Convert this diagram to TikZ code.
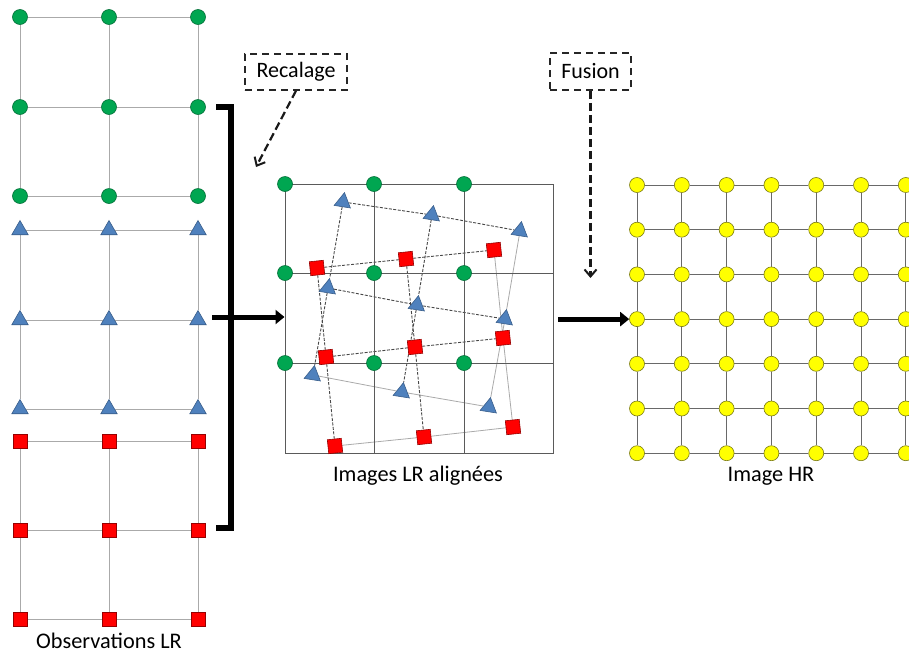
\documentclass[tikz,border=0pt]{standalone}
\usepackage{fontspec}
\setmainfont{Carlito}
\usetikzlibrary{shapes.geometric,arrows.meta,backgrounds}
\definecolor{gfill}{RGB}{0,166,81}
\definecolor{gdraw}{RGB}{0,110,55}
\definecolor{bfill}{RGB}{79,129,189}
\definecolor{bdraw}{RGB}{56,93,138}
\definecolor{rfill}{RGB}{255,0,0}
\definecolor{rdraw}{RGB}{150,0,0}
\definecolor{yfill}{RGB}{255,255,0}
\definecolor{ydraw}{RGB}{120,120,20}
\definecolor{lgrid}{RGB}{170,170,170}
\definecolor{dgrid}{RGB}{105,105,105}
\definecolor{mgrid}{RGB}{90,90,90}
\begin{document}
\begin{tikzpicture}[x=1pt,y=-1pt,
 gdot/.style={circle,fill=gfill,draw=gdraw,line width=0.6pt,minimum size=15pt,inner sep=0pt},
 bdot/.style={regular polygon,regular polygon sides=3,fill=bfill,draw=bdraw,line width=0.6pt,minimum size=19pt,inner sep=0pt},
 rdot/.style={rectangle,fill=rfill,draw=rdraw,line width=0.6pt,minimum size=14pt,inner sep=0pt},
 ydot/.style={circle,fill=yfill,draw=ydraw,line width=0.6pt,minimum size=15pt,inner sep=0pt},
 lline/.style={draw=lgrid,line width=0.9pt},
 yline/.style={draw=dgrid,line width=1pt},
 dline/.style={draw=mgrid!80!black,line width=0.9pt,dash pattern=on 3pt off 1.5pt},
 fline/.style={draw=lgrid,line width=0.8pt},
 lbl/.style={font=\fontsize{22.3}{26}\selectfont,inner sep=0pt},
 tagbox/.style={draw=black!85,line width=1.5pt,dash pattern=on 7pt off 5pt,font=\fontsize{22}{26}\selectfont,inner sep=0pt},
 darrow/.style={draw=black!90,line width=2.2pt,dash pattern=on 8pt off 4pt,-{Straight Barb[length=7pt,width=12pt,line width=2pt]}},
 barrow/.style={draw=black,line width=5pt,-{Triangle[length=9pt,width=14pt]}}]
\useasboundingbox (0,0) rectangle (909,654);

% ---------- left observation grids ----------
\foreach \c/\x in {0/20,1/109,2/198}{
  \foreach \r/\y in {0/17,1/107,2/196}{\node[gdot] (g-\c-\r) at (\x,\y) {};}
  \foreach \r/\y in {0/228,1/318,2/407}{\node[bdot] (b-\c-\r) at (\x,\y+2) {};}
  \foreach \r/\y in {0/441,1/530,2/619}{\node[rdot] (s-\c-\r) at (\x,\y) {};}
}
\begin{scope}[on background layer]
\foreach \p in {g,b,s}{
  \foreach \a/\b in {0/1,1/2}{
    \foreach \k in {0,1,2}{
      \draw[lline] (\p-\a-\k) -- (\p-\b-\k);
      \draw[lline] (\p-\k-\a) -- (\p-\k-\b);
    }
  }
}
\end{scope}

% ---------- bracket ----------
\coordinate (bTL) at (216,107);
\coordinate (bTR) at (231,107);
\coordinate (bBR) at (231,528);
\coordinate (bBL) at (216,528);
\coordinate (bM) at (212,317);
\draw[line width=5.5pt] (bTL) -- (bTR) -- (bBR) -- (bBL);

% ---------- middle aligned image ----------
\node[draw=mgrid,line width=1pt,minimum width=268pt,minimum height=269pt,inner sep=0pt] (mid) at (419,318.5) {};
\foreach \x in {374,464}{\draw[mgrid,line width=1pt] (\x,184) -- (\x,453);}
\foreach \y in {273,363}{\draw[mgrid,line width=1pt] (285,\y) -- (553,\y);}
\foreach \c/\x in {0/285,1/374,2/464}{
  \foreach \r/\y in {0/184,1/273,2/363}{\node[gdot] (mg-\c-\r) at (\x,\y) {};}
}
% triangles
\foreach \n/\x/\y in {0-0/343/200,1-0/432/213,2-0/520/229,0-1/328/286,1-1/417/303,2-1/505/317,0-2/313/373,1-2/402/390,2-2/489/405}{
  \node[bdot,rotate=-9] (mt-\n) at (\x,\y+2) {};
}
% squares
\foreach \n/\x/\y in {0-0/317/268,1-0/406/259,2-0/494/250,0-1/326/357,1-1/415/347,2-1/503/338,0-2/335/446,1-2/424/437,2-2/513/427}{
  \node[rdot,rotate=6] (ms-\n) at (\x,\y) {};
}
\begin{scope}[on background layer]
\foreach \p in {mt,ms}{
  \draw[dline] (\p-0-0) -- (\p-1-0) -- (\p-2-0);
  \draw[dline] (\p-0-1) -- (\p-1-1) -- (\p-2-1);
  \draw[fline] (\p-0-2) -- (\p-1-2) -- (\p-2-2);
  \draw[dline] (\p-0-0) -- (\p-0-1) -- (\p-0-2);
  \draw[dline] (\p-1-0) -- (\p-1-1) -- (\p-1-2);
  \draw[fline] (\p-2-0) -- (\p-2-1) -- (\p-2-2);
}
\end{scope}

% ---------- right HR grid ----------
\foreach \c in {0,...,6}{
  \foreach \r in {0,...,6}{
    \node[ydot] (y-\c-\r) at ({637+44.8*\c},{185+44.7*\r}) {};
  }
}
\begin{scope}[on background layer]
\foreach \a/\b in {0/1,1/2,2/3,3/4,4/5,5/6}{
  \foreach \k in {0,...,6}{
    \draw[yline] (y-\a-\k) -- (y-\b-\k);
    \draw[yline] (y-\k-\a) -- (y-\k-\b);
  }
}
\end{scope}

% ---------- tags and arrows ----------
\node[tagbox,minimum width=102pt,minimum height=36pt] (recal) at (296,72) {Recalage};
\node[tagbox,minimum width=81pt,minimum height=37pt] (fusion) at (590.5,71.5) {Fusion};
\coordinate (recalEnd) at (256,167);
\coordinate (fusionEnd) at (590.5,278);
\draw[darrow] (recal.south) -- (recalEnd);
\draw[darrow] (fusion.south) -- (fusionEnd);

\draw[barrow] (bM) -- (mid.west |- bM);
\coordinate (rStart) at (558,0);
\draw[barrow] (rStart |- y-0-3.west) -- (y-0-3.west);

% ---------- labels ----------
\node[lbl] (tobs) at (109,641) {Observations LR};
\node[lbl] (tmid) at (418,476) {Images LR alignées};
\node[lbl] (thr) at (771,476) {Image HR};
\end{tikzpicture}
\end{document}
